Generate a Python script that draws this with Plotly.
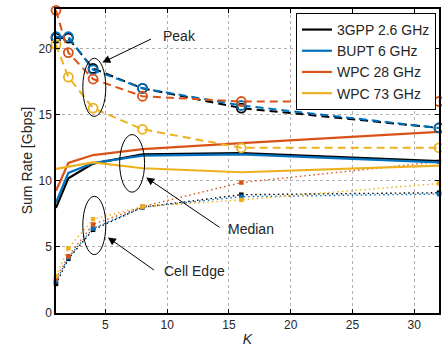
import plotly.graph_objects as go

K = [1, 2, 4, 8, 16, 32]
series_names = ["3GPP 2.6 GHz", "BUPT 6 GHz", "WPC 28 GHz", "WPC 73 GHz"]
colors = ["#000000", "#0072BD", "#D95319", "#EDB120"]

peak = {
    "3GPP 2.6 GHz": [20.8, 20.8, 18.5, 17.0, 15.5, 14.0],
    "BUPT 6 GHz": [20.9, 20.9, 18.4, 17.0, 15.7, 14.0],
    "WPC 28 GHz": [22.9, 19.7, 17.7, 16.4, 16.0, 16.0],
    "WPC 73 GHz": [20.3, 17.85, 15.5, 13.9, 12.5, 12.5],
}
median = {
    "3GPP 2.6 GHz": [7.95, 10.2, 11.3, 12.0, 12.1, 11.5],
    "BUPT 6 GHz": [8.35, 10.6, 11.35, 11.9, 12.0, 11.4],
    "WPC 28 GHz": [9.25, 11.35, 11.95, 12.4, 12.85, 13.7],
    "WPC 73 GHz": [10.9, 11.05, 11.4, 10.95, 10.65, 11.15],
}
cell_edge = {
    "3GPP 2.6 GHz": [2.2, 4.1, 6.3, 8.0, 8.95, 9.1],
    "BUPT 6 GHz": [2.4, 4.2, 6.4, 8.0, 8.8, 9.0],
    "WPC 28 GHz": [2.6, 4.3, 6.7, 8.05, 9.87, 11.45],
    "WPC 73 GHz": [2.8, 4.9, 7.1, 8.05, 8.56, 9.8],
}

x_ticks = [5, 10, 15, 20, 25, 30]
y_ticks = [0, 5, 10, 15, 20]

FONT = "Liberation Sans, Arial, Helvetica, sans-serif"

fig = go.Figure()

# cell edge (dotted + filled squares)
for name, col in zip(series_names, colors):
    fig.add_trace(go.Scatter(
        x=K, y=cell_edge[name], mode="lines+markers",
        line=dict(color=col, width=1.4, dash="1.5px,3px"),
        marker=dict(symbol="square", size=4.5, color=col),
        showlegend=False, cliponaxis=False))

# median (solid, in legend)
for name, col in zip(series_names, colors):
    fig.add_trace(go.Scatter(
        x=K, y=median[name], mode="lines", name=name,
        line=dict(color=col, width=2.2),
        showlegend=True))

# peak (dashed + open circles)
for name, col in zip(series_names, colors):
    fig.add_trace(go.Scatter(
        x=K, y=peak[name], mode="lines+markers",
        line=dict(color=col, width=2, dash="8px,5px"),
        marker=dict(symbol="circle-open", size=9, color=col, line=dict(width=1.8, color=col)),
        showlegend=False, cliponaxis=False))

axis_common = dict(
    showline=True, linecolor="black", linewidth=1.5, mirror="allticks",
    ticks="inside", ticklen=4, tickcolor="black", tickwidth=1,
    showgrid=True, gridcolor="#b0b0b0", griddash="dot", gridwidth=1,
    zeroline=False, tickfont=dict(family=FONT, size=12, color="#262626"),
)

fig.update_xaxes(range=[1, 32], tickvals=x_ticks, **axis_common,
                 title=dict(text="<i>K</i>", font=dict(family=FONT, size=14, color="#262626"), standoff=4))
fig.update_yaxes(range=[0, 23], tickvals=y_ticks, **axis_common)

# y-axis title as rotated annotation
fig.add_annotation(x=-0.075, y=0.5, xref="paper", yref="paper", text="Sum Rate [Gbps]",
                   textangle=-90, showarrow=False, xanchor="center", yanchor="middle",
                   font=dict(family=FONT, size=14, color="#262626"))

# ellipses
ellipses = [
    (3.17, 14.87, 5.03, 19.27),
    (6.15, 9.14, 8.17, 13.5),
    (3.17, 4.42, 5.03, 8.83),
]
for x0, y0, x1, y1 in ellipses:
    fig.add_shape(type="circle", xref="x", yref="y", x0=x0, y0=y0, x1=x1, y1=y1,
                  line=dict(color="black", width=1))

# arrows (head, tail) in data coords
arrows = [
    ((4.75, 18.95), (8.81, 20.78)),
    ((8.3, 10.25), (14.37, 6.4)),
    ((5.2, 5.72), (9.05, 3.17)),
]
for (hx, hy), (tx, ty) in arrows:
    fig.add_annotation(x=hx, y=hy, ax=tx, ay=ty, xref="x", yref="y", axref="x", ayref="y",
                       text="", showarrow=True, arrowhead=2, arrowsize=1.6, arrowwidth=1,
                       arrowcolor="black")

labels = [("Peak", 9.53, 20.95), ("Median", 14.74, 6.39), ("Cell Edge", 9.59, 3.15)]
for txt, lx, ly in labels:
    fig.add_annotation(x=lx, y=ly, xref="x", yref="y", text=txt, showarrow=False,
                       xanchor="left", yanchor="middle",
                       font=dict(family=FONT, size=14, color="#262626"))

fig.update_layout(
    width=442, height=347,
    margin=dict(l=56, r=1, t=9, b=34),
    paper_bgcolor="white", plot_bgcolor="white",
    font=dict(family=FONT, size=12, color="#262626"),
    legend=dict(x=0.992, y=0.987, xanchor="right", yanchor="top",
                bgcolor="white", bordercolor="black", borderwidth=1,
                font=dict(family=FONT, size=14, color="#262626"),
                tracegroupgap=0, itemwidth=30),
)

fig.write_html("out.html")
